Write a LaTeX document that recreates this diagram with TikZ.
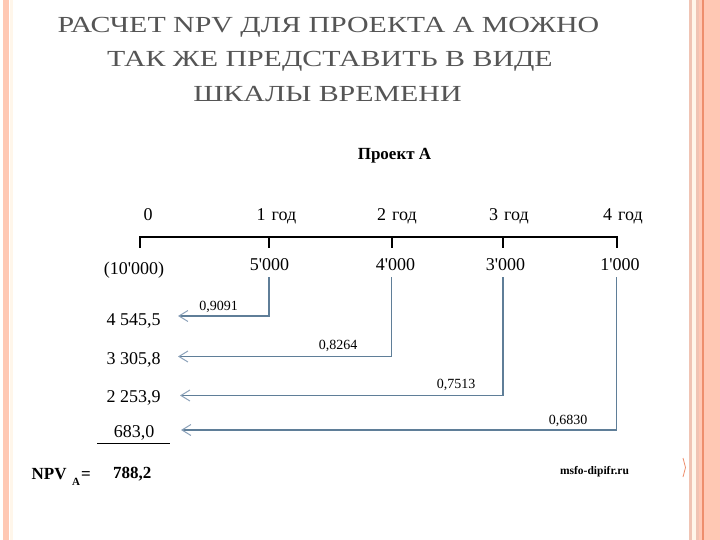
\documentclass[tikz,border=0pt]{standalone}
\usepackage{fontspec}
\setmainfont{Liberation Serif}[Ligatures=TeXOff]
\newfontfamily\ttlfont{Liberation Serif}[FakeStretch=1.3]
\usetikzlibrary{arrows.meta}
\definecolor{salmon}{HTML}{FFC8B4}
\definecolor{salmonline}{HTML}{F0C4B4}
\definecolor{cream}{HTML}{FFF6EA}
\definecolor{orangeline}{HTML}{EE8E6C}
\definecolor{titlegray}{HTML}{555555}
\definecolor{steel}{HTML}{5F7E98}
\definecolor{steeltip}{HTML}{8CA2BA}
\tikzset{
  ttl/.style={font=\ttlfont\fontsize{23}{23}\selectfont, text=titlegray, inner sep=0pt, anchor=base},
  lbl/.style={font=\fontsize{18}{18}\selectfont, inner sep=0pt, anchor=base},
  fac/.style={font=\fontsize{14}{14}\selectfont, inner sep=0pt, anchor=base},
  flow/.style={draw=steel, line width=1.7pt, -{Straight Barb[length=9pt,width=11pt,line width=1pt,color=steeltip]}},
  axis/.style={draw=black, line width=2.2pt},
  tick/.style={draw=black, line width=1.3pt}
}
\begin{document}
\begin{tikzpicture}[x=1pt,y=-1pt]
\useasboundingbox (0,0) rectangle (720,540);
\fill[white] (0,0) rectangle (720,540);
% left border
\fill[salmon] (3,0) rectangle (9,540);
\fill[cream] (10,0) rectangle (13,540);
% right border
\fill[salmonline] (689,0) rectangle (692,540);
\fill[cream] (692,0) rectangle (696,540);
\fill[salmonline] (696,0) rectangle (699,540);
\fill[salmon] (699,0) rectangle (720,540);
\fill[orangeline] (702,0) rectangle (703.7,540);
% title
\node[ttl] (t1) at (328.5,33) {РАСЧЕТ NPV ДЛЯ ПРОЕКТА А МОЖНО};
\node[ttl] (t2) at (330,67) {ТАК ЖЕ ПРЕДСТАВИТЬ В ВИДЕ};
\node[ttl] (t3) at (327.5,102) {ШКАЛЫ ВРЕМЕНИ};
% project title
\node[font=\fontsize{17}{17}\selectfont\bfseries, inner sep=0pt, anchor=base] (proj) at (394.5,160) {Проект А};
% timeline
\coordinate (a0) at (140,237);
\coordinate (a1) at (269,237);
\coordinate (a2) at (392,237);
\coordinate (a3) at (503,237);
\coordinate (a4) at (617,237);
\draw[axis] ([xshift=-0.65pt]a0) -- ([xshift=0.65pt]a4);
\foreach \i in {0,...,4} \draw[tick] (a\i) -- ++(0,11);
% year labels
\node[lbl] (y0) at (148,221) {0};
\node[lbl] (y1) at (276.5,221) {1\hspace{6pt}год};
\node[lbl] (y2) at (397,221) {2\hspace{6pt}год};
\node[lbl] (y3) at (509,221) {3\hspace{6pt}год};
\node[lbl] (y4) at (623,221) {4\hspace{6pt}год};
% cash flows
\node[lbl] (c0) at (134,274) {(10'000)};
\node[lbl] (c1) at (269.5,270) {5'000};
\node[lbl] (c2) at (395.5,270) {4'000};
\node[lbl] (c3) at (505.5,270) {3'000};
\node[lbl] (c4) at (620,270) {1'000};
% present values
\node[lbl] (p1) at (133.5,325) {4 545,5};
\node[lbl] (p2) at (133.5,364) {3 305,8};
\node[lbl] (p3) at (133.5,402) {2 253,9};
\node[lbl] (p4) at (134,437) {683,0};
\draw[line width=0.9pt] (97,443) -- (170,443);
% connector start and end points
\coordinate (s1) at (269,277);
\coordinate (s2) at (391.5,277);
\coordinate (s3) at (503,277);
\coordinate (s4) at (616.5,277);
\coordinate (e1) at (178,316);
\coordinate (e2) at (178,356.5);
\coordinate (e3) at (180,395.5);
\coordinate (e4) at (181,430);
\draw[flow] (s1) |- (e1);
\draw[flow] (s2) |- (e2);
\draw[flow] (s3) |- (e3);
\draw[flow] (s4) |- (e4);
% factors
\node[fac] (f1) at (218.5,310) {0,9091};
\node[fac] (f2) at (338,349) {0,8264};
\node[fac] (f3) at (456,388) {0,7513};
\node[fac] (f4) at (568,424) {0,6830};
% NPV
\node[font=\fontsize{17}{17}\selectfont\bfseries, inner sep=0pt, anchor=base west] (npv) at (31.5,479) {NPV};
\node[font=\fontsize{11}{11}\selectfont\bfseries, inner sep=0pt, anchor=base west] (npvsub) at (72,485) {A};
\node[font=\fontsize{17}{17}\selectfont\bfseries, inner sep=0pt, anchor=base west] (eq) at (81,479) {=};
\node[font=\fontsize{17}{17}\selectfont\bfseries, inner sep=0pt, anchor=base west] (res) at (113,478) {788,2};
% source
\node[font=\fontsize{11.5}{11.5}\selectfont\bfseries, inner sep=0pt, anchor=base] (src) at (594.5,474) {msfo-dipifr.ru};
\draw[orangeline, line width=0.8pt] (683,458) -- (685.5,467.5) -- (683,477);
\end{tikzpicture}
\end{document}
